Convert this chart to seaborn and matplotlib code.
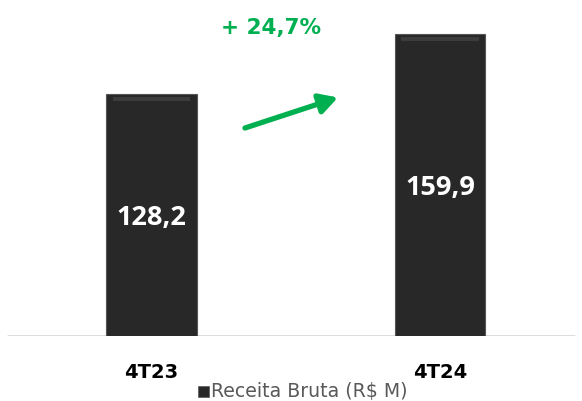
import matplotlib
matplotlib.use("Agg")
import matplotlib.pyplot as plt
import seaborn as sns
import pandas as pd
from matplotlib.patches import Rectangle

categories = ["4T23", "4T24"]
values = [128.2, 159.9]
value_labels = ["128,2", "159,9"]
growth_label = "+ 24,7%"
legend_label = "Receita Bruta (R$ M)"

sns.set_theme(style="white")
plt.rcParams["font.family"] = ["Open Sans", "DejaVu Sans"]

W, H = 582, 401
fig = plt.figure(figsize=(W / 100, H / 100), dpi=100)
base_px = 336
ax = fig.add_axes([0, (H - base_px) / H, 1, base_px / H])

df = pd.DataFrame({"cat": categories, "val": values})
sns.barplot(data=df, x="cat", y="val", color="#282828", width=0.313,
            saturation=1, ax=ax, edgecolor="#555555", linewidth=0.8)

px_per_unit = (base_px - 34.3) / values[1]
ax.set_ylim(0, base_px / px_per_unit)
ax.set_xlim(-151.5 / 289, 1 + (582 - 440) / 289)
for s in ax.spines.values():
    s.set_visible(False)
ax.set_xticks([])
ax.set_yticks([])
ax.set_xlabel("")
ax.set_ylabel("")

# subtle bevel highlight at the top of each bar
for p in ax.patches:
    x0, w, h = p.get_x(), p.get_width(), p.get_height()
    u = 1 / px_per_unit
    ax.add_patch(Rectangle((x0 + w * 0.07, h - 7 * u), w * 0.86, 4 * u,
                           color="#3c3c3c", lw=0, zorder=3))

ax.axhline(0, xmin=8 / W, xmax=574 / W, color="#d9d9d9", lw=2, zorder=0)

for i, (v, lab) in enumerate(zip(values, value_labels)):
    ax.text(i, v / 2, lab, ha="center", va="center_baseline", color="white",
            fontsize=19.5, fontweight="bold", zorder=5)

# category labels
for i, c in enumerate(categories):
    ax.annotate(c, xy=(i, 0), xycoords="data", xytext=(0, -(378 - base_px) * 0.72),
                textcoords="offset points", ha="center", va="baseline",
                fontsize=14, fontweight="bold", color="black",
                family=["DejaVu Sans"], annotation_clip=False)

# legend
fig.patches.append(Rectangle((198 / W, 1 - 397 / H), 11 / W, 11 / H,
                             transform=fig.transFigure, facecolor="#282828",
                             edgecolor="#5a5a5a", lw=0.5))
fig.text(211 / W, 1 - 397 / H, legend_label, ha="left", va="baseline",
         fontsize=13.6, color="#595959", family=["DejaVu Sans"])

# growth annotation
fig.text(271 / W, 1 - 34 / H, growth_label, ha="center", va="baseline",
         fontsize=15.5, fontweight="bold", color="#00B050",
         family=["DejaVu Sans"])
ax.annotate("", xy=(338 / W, 1 - 97.5 / H), xytext=(245 / W, 1 - 128 / H),
            xycoords="figure fraction", textcoords="figure fraction",
            arrowprops=dict(arrowstyle="-|>,head_length=0.9,head_width=0.5",
                            color="#00B050", lw=3.8, shrinkA=0, shrinkB=0))

fig.savefig("out.png", dpi=100)
